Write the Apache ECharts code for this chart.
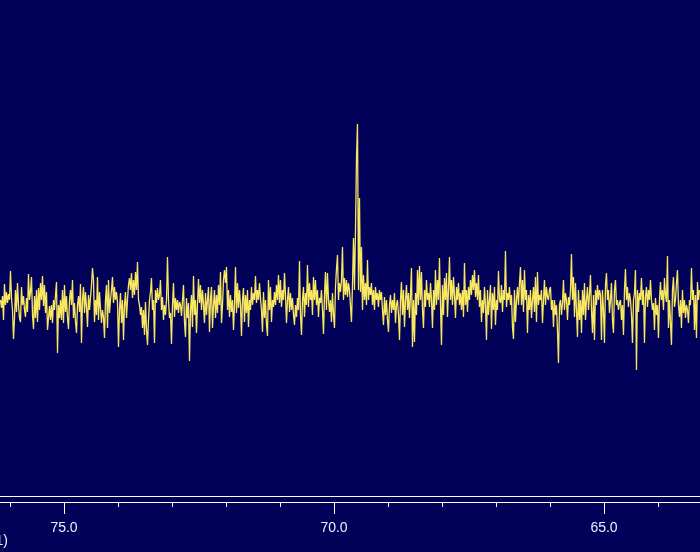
<!DOCTYPE html>
<html>
<head>
<meta charset="utf-8">
<title>spectrum</title>
<script src="https://cdn.jsdelivr.net/npm/echarts@6/dist/echarts.min.js"></script>
<style>
  html, body { margin: 0; padding: 0; background: #01015a; }
  #main { width: 700px; height: 552px; }
</style>
</head>
<body>
<div id="main"></div>
<script>
  // spectrum window (ppm), left edge is the higher shift
  var ppmLeft = 76.176;
  var ppmRight = 63.232;
  var minorTicks = [64, 65, 66, 67, 68, 69, 70, 71, 72, 73, 74, 75, 76];
  var majorTicks = [65, 70, 75];

  // intensities, left to right
  var intensity = [
    0,-8,4,-20,16,-5,8,-3,6,0,
    29,2,-10,-39,-18,10,-12,17,-5,-18,
    -22,13,-5,4,-10,-17,2,-12,26,0,
    8,23,-15,-29,4,-18,10,-22,12,-10,
    17,0,24,-6,15,-13,8,-30,-18,-6,
    -20,-5,-23,0,-10,5,18,-53,-5,-18,
    0,-20,10,-23,15,-12,4,-18,-29,0,
    10,-5,20,-18,-3,-22,-33,-5,4,-12,
    16,-43,0,13,-13,8,-7,-27,5,-10,
    2,15,32,20,-22,0,-15,23,-20,8,
    -8,-23,-10,-17,-38,0,15,-28,20,-13,
    0,10,23,-3,13,0,8,-2,-47,-10,
    7,-23,0,-40,-5,8,-18,0,15,22,
    10,27,2,20,5,28,10,38,0,-5,
    -15,-7,-28,-10,-35,-2,-30,-45,-20,0,
    8,22,-10,0,-43,10,-3,12,0,5,
    20,-10,3,-20,-5,-15,0,43,0,-18,
    -13,-44,-5,17,-17,2,-10,0,-13,-2,
    -5,-16,0,15,-22,-37,2,-18,-3,-61,
    -10,5,-27,24,-15,0,-33,-5,21,-3,
    15,-10,10,-5,-23,7,-15,0,13,-32,
    0,13,-28,-5,10,-18,5,-13,15,-5,
    28,-23,-5,20,30,17,33,-10,10,-17,
    5,-12,0,-30,-5,33,-13,17,-8,10,
    -5,-36,0,12,-22,5,-13,10,-27,0,
    -10,13,-5,7,0,24,-3,10,0,17,
    2,-10,-32,8,-18,0,-25,-36,20,-10,
    13,-22,0,-7,8,-5,15,0,25,-3,
    20,-7,10,0,27,5,-23,0,13,-12,
    7,-10,2,-15,-25,-5,-17,2,-10,39,
    -15,-35,0,13,-17,7,-5,35,-7,17,
    0,10,-15,23,0,20,-5,10,-17,2,
    -3,10,-10,-34,5,28,-10,27,0,-12,
    0,-22,7,-15,-28,13,31,45,0,17,
    8,20,53,0,22,5,20,3,17,10,
    10,-22,15,62,10,70,142,176,10,102,
    8,53,-10,25,0,17,-5,40,0,13,
    5,17,-5,10,-10,13,0,7,-7,10,
    0,8,-10,-25,3,-15,0,-20,-32,-5,
    5,-13,0,-10,7,-23,-5,0,-15,-40,
    0,18,-15,10,-27,0,15,-10,7,-18,
    5,32,-47,0,-42,7,-15,30,-5,34,
    0,28,-10,-28,10,-7,20,0,7,-7,
    17,0,-28,10,-10,30,-5,20,0,42,
    -5,-45,15,-15,22,0,27,-17,10,43,
    0,20,-5,23,5,-18,13,0,17,-5,
    7,-10,10,-17,37,-5,10,-12,13,0,
    20,5,25,10,30,3,17,0,25,-7,
    10,-22,0,-13,13,-5,-40,10,-15,0,
    15,-29,7,-10,13,-25,0,-10,29,0,
    -3,15,-12,10,0,49,-7,7,0,13,
    -5,5,-27,-39,10,-22,0,13,-5,17,
    33,-5,20,-12,30,0,10,-33,5,-10,
    10,-18,0,13,-12,23,-22,28,-5,5,
    0,10,-23,0,20,-5,13,3,0,10,
    13,-10,0,-27,0,-15,-5,-30,-63,-5,
    0,-15,-3,20,-10,7,0,-20,3,-5,
    10,46,0,23,-17,17,-10,-37,10,-20,
    0,-33,10,-15,17,-20,0,13,-10,5,
    25,-10,-33,5,-40,10,-5,15,0,10,
    5,-40,10,-10,-43,15,27,0,10,-13,
    0,17,-20,-33,10,20,-5,0,-10,-3,
    0,-20,-5,-35,10,31,0,13,-7,7,
    0,-15,-43,0,7,30,-70,10,-12,7,
    0,22,-5,10,-43,3,13,-7,10,0,
    20,0,-10,-3,-30,2,-15,-5,-38,0,
    18,0,10,-10,22,5,-2,44,-28,0,
    0,-45,10,23,-7,0,17,30,-5,-17,
    0,-28,10,-13,0,-18,-5,-10,-23,0,
    -5,32,0,10,-30,5,-38,18,0,10
  ];

  // evenly sampled points -> [ppm, intensity]
  var step = (ppmLeft - ppmRight) / (intensity.length - 1);
  var points = [];
  for (var i = 0; i < intensity.length; i++) {
    points.push([ppmLeft - i * step, intensity[i]]);
  }

  var xMin = 63.2222, xMax = 76.1852;
  var white = '#ffffff';
  var labelFont = 'Liberation Sans, Arial, sans-serif';

  var myChart = echarts.init(document.getElementById('main'));
  var option = {
    animation: false,
    backgroundColor: '#01015a',
    grid: { left: 0, right: 0, top: 0, bottom: 56 },
    xAxis: [{
      // upper rule
      type: 'value', min: xMin, max: xMax, inverse: true, position: 'bottom',
      axisLine: { show: true, onZero: false, lineStyle: { color: white, width: 1 } },
      axisTick: { show: false },
      axisLabel: { show: false },
      splitLine: { show: false }
    }, {
      // minor ticks every 1 ppm
      type: 'value', min: xMin, max: xMax, inverse: true, position: 'bottom', offset: 6,
      axisLine: { show: true, onZero: false, lineStyle: { color: white, width: 1 } },
      axisTick: { show: true, length: 5, customValues: minorTicks, lineStyle: { color: white } },
      axisLabel: { show: false },
      splitLine: { show: false }
    }, {
      // major ticks + labels every 5 ppm
      type: 'value', min: xMin, max: xMax, inverse: true, position: 'bottom', offset: 6,
      axisLine: { show: false, onZero: false },
      axisTick: { show: true, length: 12, customValues: majorTicks, lineStyle: { color: white, width: 1 } },
      axisLabel: {
        show: true, customValues: majorTicks, margin: 19,
        color: '#e6f2ff', fontSize: 14, fontFamily: labelFont,
        formatter: function (v) { return v.toFixed(1); }
      },
      splitLine: { show: false }
    }],
    yAxis: { type: 'value', min: -196, max: 300, show: false, splitLine: { show: false } },
    graphic: [{
      type: 'text', right: 692, top: 534,
      style: { text: '(ppm1)', fill: '#e6f2ff', font: '14px ' + labelFont }
    }],
    series: [{
      type: 'line',
      xAxisIndex: 0,
      data: points,
      showSymbol: false,
      sampling: null,
      lineStyle: { color: '#f8e860', width: 1.3 },
      z: 3
    }]
  };
  myChart.setOption(option);
</script>
</body>
</html>
